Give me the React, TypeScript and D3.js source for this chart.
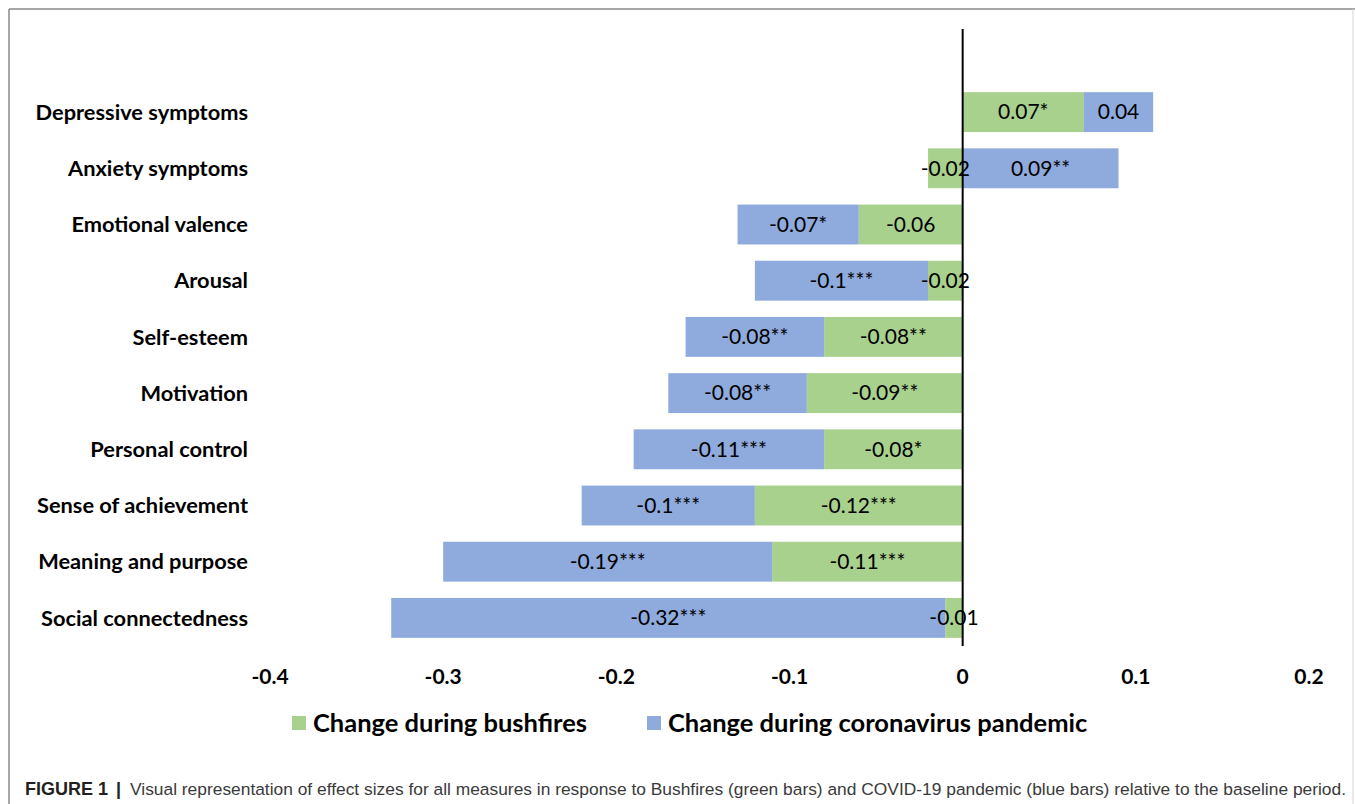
import React from 'react';
import * as d3 from 'd3';

const categories = [
  'Depressive symptoms',
  'Anxiety symptoms',
  'Emotional valence',
  'Arousal',
  'Self-esteem',
  'Motivation',
  'Personal control',
  'Sense of achievement',
  'Meaning and purpose',
  'Social connectedness',
];
const bushfires = [0.07, -0.02, -0.06, -0.02, -0.08, -0.09, -0.08, -0.12, -0.11, -0.01];
const pandemic = [0.04, 0.09, -0.07, -0.1, -0.08, -0.08, -0.11, -0.1, -0.19, -0.32];
const bushfireLabels = ['0.07*', '-0.02', '-0.06', '-0.02', '-0.08**', '-0.09**', '-0.08*', '-0.12***', '-0.11***', '-0.01'];
const pandemicLabels = ['0.04', '0.09**', '-0.07*', '-0.1***', '-0.08**', '-0.08**', '-0.11***', '-0.1***', '-0.19***', '-0.32***'];
const xTicks = [-0.4, -0.3, -0.2, -0.1, 0, 0.1, 0.2];
const seriesNames = ['Change during bushfires', 'Change during coronavirus pandemic'];

const W = 1355;
const H = 804;
const GREEN = '#a9d18e';
const BLUE = '#8faadc';
const FONT = 'Lato, "Noto Sans", sans-serif';
const CAPTION_FONT = '"Liberation Sans", Arial, sans-serif';

const App: React.FC = () => {
  const x = d3.scaleLinear().domain([-0.4, 0.2]).range([270, 1309]);
  const y = d3.scaleBand<string>().domain(categories).range([84, 646]).paddingInner(0.29).paddingOuter(0.145);

  const rows = categories.map((c, i) => ({ cat: c, bushfires: bushfires[i], pandemic: pandemic[i] }));
  const stack = d3.stack<any>().keys(['bushfires', 'pandemic']).offset(d3.stackOffsetDiverging);
  const series = stack(rows);
  const colors = [GREEN, BLUE];
  const labels = [bushfireLabels, pandemicLabels];
  const tickFmt = (t: number) => String(t);

  return (
    <div style={{ position: 'absolute', left: 0, top: 0 }}>
      <svg width={W} height={H} style={{ display: 'block', background: '#fff' }}>
        {/* frame */}
        <line x1={9} y1={9} x2={W} y2={9} stroke="#8a8a8a" strokeWidth={1.5} />
        <line x1={9} y1={9} x2={9} y2={H} stroke="#8a8a8a" strokeWidth={1.5} />
        <line x1={1353} y1={9} x2={1353} y2={H} stroke="#d6d6d6" strokeWidth={1} />

        {/* bars */}
        {series.map((s, si) =>
          s.map((d, i) => {
            const x0 = x(Math.min(d[0], d[1]));
            const x1 = x(Math.max(d[0], d[1]));
            return (
              <rect
                key={`${si}-${i}`}
                x={x0}
                y={y(categories[i])!}
                width={x1 - x0}
                height={y.bandwidth()}
                fill={colors[si]}
              />
            );
          })
        )}

        {/* zero line */}
        <line x1={x(0)} y1={29} x2={x(0)} y2={646} stroke="#000" strokeWidth={2} />

        {/* data labels */}
        {series.map((s, si) =>
          s.map((d, i) => (
            <text
              key={`l${si}-${i}`}
              x={(x(d[0]) + x(d[1])) / 2}
              y={y(categories[i])! + y.bandwidth() / 2}
              dy="0.35em"
              textAnchor="middle"
              fontFamily={FONT}
              fontSize={21}
              fill="#000"
            >
              {labels[si][i]}
            </text>
          ))
        )}

        {/* category labels */}
        {categories.map((c) => (
          <text
            key={c}
            x={248}
            y={y(c)! + y.bandwidth() / 2}
            dy="0.35em"
            textAnchor="end"
            fontFamily={FONT}
            fontWeight={700}
            fontSize={21.8}
            fill="#000"
          >
            {c}
          </text>
        ))}

        {/* x ticks */}
        {xTicks.map((t) => (
          <text
            key={t}
            x={x(t)}
            y={677}
            dy="0.35em"
            textAnchor="middle"
            fontFamily={FONT}
            fontWeight={700}
            fontSize={21}
            fill="#000"
          >
            {tickFmt(t)}
          </text>
        ))}

        {/* legend */}
        {seriesNames.map((n, i) => {
          const lx = i === 0 ? 292 : 647;
          return (
            <g key={n}>
              <rect x={lx} y={716} width={14} height={14} fill={colors[i]} />
              <text x={lx + 21} y={723} dy="0.35em" fontFamily={FONT} fontWeight={700} fontSize={25.5} fill="#000">
                {n}
              </text>
            </g>
          );
        })}

        {/* caption */}
        <text x={25} y={795} fontFamily={CAPTION_FONT} fontSize={18} fill="#231f20" fontWeight={700}>
          FIGURE 1
        </text>
        <text x={116} y={795} fontFamily={CAPTION_FONT} fontSize={18} fill="#231f20" fontWeight={700}>
          |
        </text>
        <text
          x={130}
          y={795}
          fontFamily={CAPTION_FONT}
          fontSize={17.2}
          fill="#3a3a3a"
          textLength={1216}
          lengthAdjust="spacingAndGlyphs"
        >
          Visual representation of effect sizes for all measures in response to Bushfires (green bars) and COVID-19 pandemic (blue bars) relative to the baseline period.
        </text>
      </svg>
    </div>
  );
};

export default App;
